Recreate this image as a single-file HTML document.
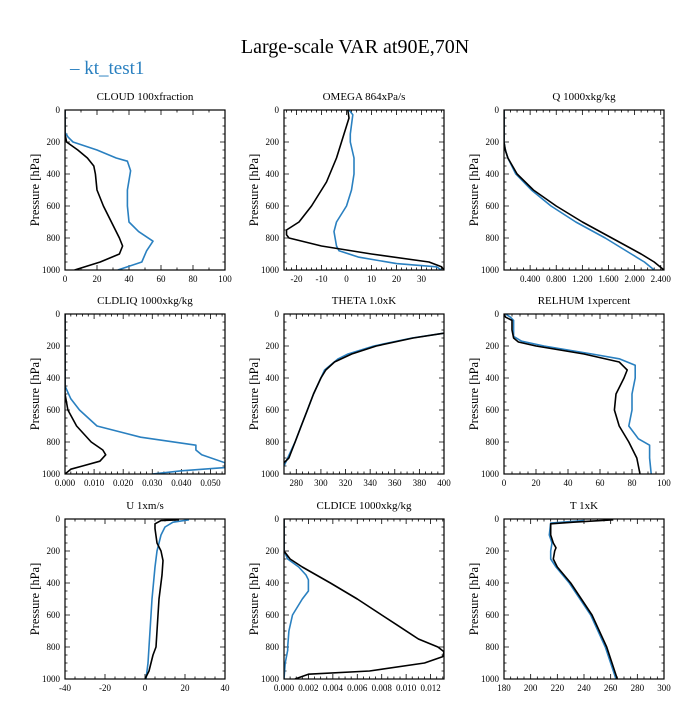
<!DOCTYPE html>
<html><head><meta charset="utf-8"><style>
html,body{margin:0;padding:0;background:#fff;}
svg text{font-family:"Liberation Serif",serif;}
</style></head><body>
<svg id="chart" width="700" height="700" xmlns="http://www.w3.org/2000/svg">
<text x="355" y="53" text-anchor="middle" font-size="20" fill="#000">Large-scale VAR at90E,70N</text>
<text x="70" y="74" font-size="19" fill="#2a80c0">– kt_test1</text>
</svg>
<script>
// ---- data arrays (pressure hPa, values) ----
const cloudBlackP=[0,150,200,250,300,350,400,500,600,700,800,850,900,950,1000];
const cloudBlackV=[0,0,1,8,14,18,19,20,24,29,34,36,34,22,6];
const cloudBlueP=[0,140,170,200,250,300,320,380,500,600,700,760,820,880,950,1000];
const cloudBlueV=[0,0,2,5,20,32,39,41,39,39,40,46,55,51,48,33];
const omegaBlackP=[0,50,150,300,450,600,700,750,780,800,850,900,950,980,1000];
const omegaBlackV=[0.5,1,-1,-4,-8,-14,-19,-24,-24,-23,-10,10,33,38,39];
const omegaBlueP=[0,30,150,200,300,400,500,600,700,760,850,880,920,960,980,1000];
const omegaBlueV=[1,2.5,1.5,1.5,3,3,2,0,-4,-5,-4,-3,5,20,36,38];
const qBlackP=[0,200,250,300,400,500,600,700,800,900,950,1000];
const qBlackV=[0,0,0.02,0.06,0.2,0.45,0.8,1.2,1.65,2.1,2.3,2.45];
const qBlueP=[0,200,250,300,400,500,600,700,800,900,950,1000];
const qBlueV=[0,0,0.02,0.06,0.18,0.42,0.72,1.1,1.55,1.95,2.15,2.3];
const liqBlackP=[0,500,600,700,800,850,880,920,950,970,1000];
const liqBlackV=[0,0,0.001,0.004,0.009,0.013,0.014,0.012,0.006,0.002,0];
const liqBlueP=[0,450,530,600,700,770,820,850,880,930,960,980,1000];
const liqBlueV=[0,0,0.002,0.005,0.011,0.026,0.045,0.045,0.047,0.055,0.055,0.04,0.03];
const thBlackP=[120,150,200,250,300,350,400,500,600,700,800,900,930];
const thBlackV=[400,375,345,325,311,304,300,294,289,284,279,274,270];
const thBlueP=[120,150,200,250,280,350,400,500,600,700,800,900,950];
const thBlueV=[400,374,343,322,314,303,300,294,289,284,279,273,270];
const rhBlackP=[0,20,40,100,150,175,200,250,300,330,350,400,500,600,700,800,900,950,1000];
const rhBlackV=[0,1,5,5,6,9,20,50,72,75,77,75,70,69,72,78,83,84,85];
const rhBlueP=[0,20,40,100,140,170,200,250,280,320,400,500,600,700,780,820,900,1000];
const rhBlueV=[1,4,6,6,6,11,25,55,72,82,82,80,80,78,84,91,91,92];
const uBlackP=[5,10,30,60,150,200,260,350,500,700,800,850,950,1000];
const uBlackV=[17,8,5,5,6,8,9,8.5,7,6,5.5,4,2,0];
const uBlueP=[5,20,50,100,150,200,300,500,800,900,1000];
const uBlueV=[22,14,10,8,7,6,5,3.5,2,1.5,0.5];
const iceBlackP=[0,200,250,300,400,500,600,660,750,800,830,860,900,950,970,1000];
const iceBlackV=[0,0,0.0005,0.0015,0.0038,0.006,0.008,0.0092,0.011,0.0126,0.0131,0.013,0.0115,0.007,0.002,0.0009];
const iceBlueP=[0,200,250,300,350,380,450,500,600,700,800,820,900,1000];
const iceBlueV=[0,0,0.0003,0.0012,0.0018,0.002,0.002,0.0015,0.0007,0.0004,0.0003,0.0003,0.0001,0];
const tBlackP=[5,20,30,60,100,150,180,200,250,300,400,600,800,900,1000];
const tBlackV=[262,232,215,215,215,217,219,218,217,220,230,246,257,261,265];
const tBlueP=[10,25,100,150,200,250,300,400,600,800,1000];
const tBlueV=[240,215,214,216,215,215,219,229,245,256,264];
const yTicks=[0,200,400,600,800,1000];

const panels=[
 {name:'cloud',title:'CLOUD  100xfraction',col:0,row:0,xmin:0,xmax:100,ticks:[0,20,40,60,80,100],dec:0,minor:10,b:[cloudBlackP,cloudBlackV],u:[cloudBlueP,cloudBlueV]},
 {name:'omega',title:'OMEGA  864xPa/s',col:1,row:0,xmin:-25,xmax:39,ticks:[-20,-10,0,10,20,30],dec:0,minor:2,b:[omegaBlackP,omegaBlackV],u:[omegaBlueP,omegaBlueV]},
 {name:'q',title:'Q  1000xkg/kg',col:2,row:0,xmin:0,xmax:2.45,ticks:[0.4,0.8,1.2,1.6,2.0,2.4],dec:3,minor:0.1,b:[qBlackP,qBlackV],u:[qBlueP,qBlueV]},
 {name:'cldliq',title:'CLDLIQ  1000xkg/kg',col:0,row:1,xmin:0,xmax:0.055,ticks:[0,0.01,0.02,0.03,0.04,0.05],dec:3,minor:0.002,b:[liqBlackP,liqBlackV],u:[liqBlueP,liqBlueV]},
 {name:'theta',title:'THETA  1.0xK',col:1,row:1,xmin:270,xmax:400,ticks:[280,300,320,340,360,380,400],dec:0,minor:5,b:[thBlackP,thBlackV],u:[thBlueP,thBlueV]},
 {name:'relhum',title:'RELHUM  1xpercent',col:2,row:1,xmin:0,xmax:100,ticks:[0,20,40,60,80,100],dec:0,minor:5,b:[rhBlackP,rhBlackV],u:[rhBlueP,rhBlueV]},
 {name:'u',title:'U  1xm/s',col:0,row:2,xmin:-40,xmax:40,ticks:[-40,-20,0,20,40],dec:0,minor:5,b:[uBlackP,uBlackV],u:[uBlueP,uBlueV]},
 {name:'cldice',title:'CLDICE  1000xkg/kg',col:1,row:2,xmin:0,xmax:0.0131,ticks:[0,0.002,0.004,0.006,0.008,0.010,0.012],dec:3,minor:0.0005,b:[iceBlackP,iceBlackV],u:[iceBlueP,iceBlueV]},
 {name:'t',title:'T  1xK',col:2,row:2,xmin:180,xmax:300,ticks:[180,200,220,240,260,280,300],dec:0,minor:5,b:[tBlackP,tBlackV],u:[tBlueP,tBlueV]}
];
const svg=document.getElementById('chart');
const NS='http://www.w3.org/2000/svg';
const colX=[65,284,504], rowY=[110,314,519], W=160, H=160;
function mk(tag,attrs,parent){const e=document.createElementNS(NS,tag);for(const k in attrs)e.setAttribute(k,attrs[k]);parent.appendChild(e);return e;}
panels.forEach(p=>{
 const L=colX[p.col], T=rowY[p.row];
 const sx=v=>L+(v-p.xmin)/(p.xmax-p.xmin)*W;
 const sy=v=>T+v/1000*H;
 const g=mk('g',{},svg);
 
 
 const t=mk('text',{x:L+W/2,y:T-10,'text-anchor':'middle','font-size':11},g);t.textContent=p.title;
 
 
 const yl=mk('text',{x:0,y:0,'text-anchor':'middle','font-size':12.5,transform:`translate(${L-26},${T+H/2}) rotate(-90)`},g);yl.textContent='Pressure [hPa]';
 
 
 let d='';
 const s0=Math.ceil(p.xmin/p.minor-1e-9);
 for(let i=s0;i*p.minor<=p.xmax+1e-12;i++){const x=sx(i*p.minor);d+=`M${x},${T+H}v-2.5M${x},${T}v2.5`;}
 for(let v=0;v<=1000;v+=50){const y=sy(v);d+=`M${L},${y}h2.5M${L+W},${y}h-2.5`;}
 p.ticks.forEach(v=>{const x=sx(v);d+=`M${x},${T+H}v-5M${x},${T}v5`;
  const tx=mk('text',{x:x,y:T+H+12,'text-anchor':'middle','font-size':9},g);tx.textContent=v.toFixed(p.dec);
  
  });
 yTicks.forEach(v=>{const y=sy(v);d+=`M${L},${y}h5M${L+W},${y}h-5`;
  const ty=mk('text',{x:L-5,y:y+3,'text-anchor':'end','font-size':9},g);ty.textContent=v;
  
  });
 const tk=mk('path',{d:d,stroke:'#000','stroke-width':0.8,fill:'none'},g);
 
 
 const clip='clip-'+p.name;
 const cp=mk('clipPath',{id:clip},g);mk('rect',{x:L,y:T,width:W,height:H},cp);
 [[p.u,'#2a80c0','blue'],[p.b,'#000','black']].forEach(([s,c,n])=>{
  const pts=s[0].map((pp,i)=>sx(s[1][i]).toFixed(1)+','+sy(pp).toFixed(1)).join(' ');
  const pl=mk('polyline',{points:pts,fill:'none',stroke:c,'stroke-width':1.6,'stroke-linejoin':'round','clip-path':`url(#${clip})`},g);
  
  
 });
 const fr=mk('rect',{x:L,y:T,width:W,height:H,fill:'none',stroke:'#000','stroke-width':1.2},g);
 
 
});
</script>
</body></html>
